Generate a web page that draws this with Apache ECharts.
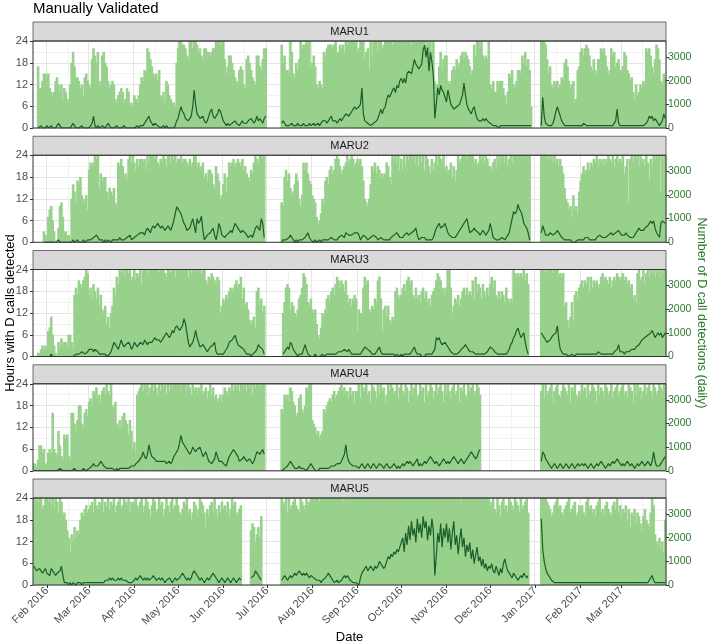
<!DOCTYPE html>
<html>
<head>
<meta charset="utf-8">
<title>Manually Validated</title>
<script src="https://cdn.jsdelivr.net/npm/echarts@6/dist/echarts.min.js"></script>
<style>
  html, body { margin: 0; padding: 0; background: #fff; }
  #chart { width: 709px; height: 644px; }
</style>
</head>
<body>
<div id="chart"></div>
<script>
// One string per month (Jan 23 2016 .. Mar 31 2017), one char per day.
// hours: base-36 digit = hours with D calls (0..24, 'o' = 24), '-' = no recording
// calls: base-36 digit = daily D call detections in hundreds, '-' = no recording
const monthDays = [9, 29, 31, 30, 31, 30, 31, 31, 30, 31, 30, 31, 31, 28, 31]

const maru1Hours = [
  '---hbbdff', 'efba9adecac8ba87cilheedbc9efd', 'cbjmkilcdklihdbcdc879aba78ba676',
  '9879cedgfmljhfefdg98a7dc98776i', 'moonnmkjoomoonlmkjmmllklmmooono', 'ojfhkkigedcghgcbjkigedckkhgjmm',
  '----------nikggfolfeigjomnnonoh', 'ikhcbdcblkmnnnmnollnmnlonoooooo', 'lmooojlmgokoooloomnooooonooooo',
  'ooooooonooooooooomonolodcchlgjk', 'kdcdghgjhikljlkjhfgnkoomokjkjo', 'cbdaadcddb97afegcbdggfkilhjg6--',
  '----ooonjfhcbdcdbcedijhdbcd78gh', 'lmkmnmkhgjgfjjmlmkhfgmklhijg', 'ghlkgfdea8c9acbdcmlmkhfjnmjdcfe'
]
const maru1Calls = [
  '---001000', '10010001210000000121000010000', '0125101001101210000100001000000',
  '001011123353212211001010000013', '47976443359ga654453235785446875', '321211223221232223343235343245',
  '----------232111121112111211121', '1211212333234533323434566567898', '89ah6332211223468689ceddghfihk',
  'ljljnoonqtrqpqrxzuyowsm4aheigfd', 'bgda98899acejea876896433343433', '22111101111111111111111111111--',
  '----1d5221112479753211111111111', '1122111111111111111111113821', '1111111111111111123545343211364'
]
const maru2Hours = [
  '-------32', '179a63004ab733221cgebhgidcbd9', 'kmlmonofjhiiecfedfbamlnlijhnomo',
  'mknlnnmnkomooonomlnmonloomonom', 'nnomnnmlnlmoolmklmijhkkjgfljhcd', 'gjeimlmnlmnmlnkljihkjmonmoono-',
  '----------baikhjfdegjhcadmkmjhg', 'dcb7568cbhigkljknonljklmomnonlm', 'nmnlhcbacglkmjlkijijmligonomok',
  'nkolonoonomolomokonljnkmolonmok', 'ljkmilhkomnooonoooomnlmonomonl', 'lkmnkomonomolnomoooooooooooo---',
  '----oooononomomnlnljfcb9a7d9a8e', 'hjljkmkmlnmolnmnlnmonmolnomn', 'mojlnbnomonolomnlomhnlononoeono'
]
const maru2Calls = [
  '-------00', '00000000100000000010010001001', '1112232111010110111112111122311',
  '2233444356546767876765676579cf', 'edca875568a74a89b51233456314863', '32334546876545543223246765a82-',
  '----------011112321010111123421', '1010010111111221112233244333344', '431233211223321122111112233432',
  '2233433445631122211111246786678', '64332223455789a744565543454345', '852211112212347adcdgedb87641---',
  '----475333443345432211111000011', '1112221111122332222334334454', '3334332223456555667898964428998'
]
const maru3Hours = [
  '---112323', '278b631042534436642hjhlkjlmon', 'hjgkigjehdce9b8cejhmkonomoonolm',
  'olnmokooonooooooonooonmoonoomo', 'oooonoomonooonoonoolkmlnmlkmlce', 'gfhgijijkljkmgjefda9ab8ijegce-',
  '-----------cfjkjdfecbdghjnmkfeg', 'dcd9658cbdghfijhkmljlkilhfgeghg', '7dccjmkldcedgflmg7debea9baijhg',
  'hjkilmklhgjghfijgifgehijlnmlijh', 'joojcegfhegijhjhihlgmikjgkigjh', 'kmjlhgigihfjgfgfonmnmnmolnk----',
  '----ooonoooonooomnmnefa8bfahigj', 'kljlkmimjlkljkmnlmlkmjlmlnml', 'mnlmkljkghfnolmoknomonomonomono'
]
const maru3Calls = [
  '---000000', '00010000000000000000111122112', '3332332111110012465435754556534',
  '6545665765666787776789a989bacd', 'cbcdgea64568b864455322445621111', '12246678975544321110112354431-',
  '-----------12343653210111353110', '0010000100111111112222332321111', '111234433211123421111111110110',
  '1011111234211100011111138786556', '643221111233454322221111111123', '443221111111235689bca89a631----',
  '----a987667899ad732111100110111', '1111111111112211111111122352', '22122223334456778899abb89a9a89a'
]
const maru4Hours = [
  '221377562', '2565g654b743a9a43ggdbeiidcghf', 'jkimlnkljmnlomloihjdcecfgedaeb6',
  '85lmnomonolnomonlomonolomonooo', 'oonooomonlomnlnmolmnkmolnkljklj', 'lnmlnmomonomoonomonolonoonooo-',
  '----------hglkljnmjifgklhginmoo', 'edcab9abhgijkjlmklmnomnlmknlmjm', 'mokomnolmjonmkolomnjlomonlmokn',
  'omlonjmolnoklomnjolmonkmolnomjo', 'lomknolmojnmolkomnolmonl------', '-------------------------------',
  '----mokolmnojmnolkmonmlojnmolkm', 'lomnkolmonmjolnmkonlmokmnolm', 'nolmkonmjolomnkmolnomkonlmonmoo'
]
const maru4Calls = [
  '000000000', '00000000011000000001000001100', '1123222343221111110101111111122',
  '2334568657b8665444444433434678', '9cfcba9878a9899a867864433586444', '33246789886445654454346887897-',
  '----------001123432111211110123', '21000111111112222333447b6433222', '212321232123212332123211232121',
  '2323434323452323434565434323454', '343456543454345678765689------', '-------------------------------',
  '----487543212321232123212321232', '2323212321232343212323434543', '2323432321232343234324842223456'
]
const maru5Hours = [
  'ooonoolmo', 'onomolonko njkifd9ecg dfeikjlmk', 'lmnkomlnmo knmolnmokm nolmonmokn m',
  'nomlnokmonljmonklomnjlomknolmo', 'mkjlnmokliknmjlonmkgljmnkoljmkn', 'lmknjlomnkjlm------fhgcegdj---',
  '----------onmokolmnomlkonmlomno', 'ooooonoooo oooooooooo onoooooooo o', 'oooooooooo oooooooooo oooooooooo',
  'oooooooooo oooooooooo oooooooooo o', 'oooooooooo nooooooooo oooooooooo', 'mnolkomjnolmkonmlonmkolmnok----',
  '----oooonmljkmnolmkjlmnoklmnjkm', 'lmkjnolmkljmnokljmnlkjmnlokm', 'jlkmilgkjl hkjhfjlihg komecbdac9 i'
]
const maru5Calls = [
  '876676557', '5547654556 8411101011 011101111', '1111111111 1222323222 3232222111 1',
  '2323432323 2234322323 2122321232', '2345432323 5654323212 3234543212 3', '2123212321232------33465432---',
  '---------- 2343234345 4565454543 4', '4332221223 4553211211 2343432211 1', '1035678678 76878a9878 acbdcedfeg',
  'gkemhpjrlo ismqktorjp lsn4cmiqgo k', 'qiofmrhldj ogkcheibf9 dgac8b7968', '7965864759 b865435432 3435434----',
  '---- sfa7543221 1111111111 1111111', '1111111111 1111111111 11111111', '1111111111 1111111112 3421111111 1'
]

const panelNames = ['MARU1', 'MARU2', 'MARU3', 'MARU4', 'MARU5']
const callTicks = [0, 1000, 2000, 3000]
const monthNames = ['Jan', 'Feb', 'Mar', 'Apr', 'May', 'Jun', 'Jul', 'Aug', 'Sep', 'Oct', 'Nov', 'Dec']

const problems = []
function decode(months, scale, tag) {
  const out = []
  months.forEach((raw, m) => {
    const s = raw.replace(/ /g, '')
    const n = monthDays[m]
    if (s.length !== n) problems.push(tag + ' m' + m + ':' + s.length + '/' + n)
    for (let i = 0; i < n; i++) {
      const c = s[i]
      out.push(c === undefined || c === '-' ? null : parseInt(c, 36) * scale)
    }
  })
  return out
}

const dates = []
const start = Date.UTC(2016, 0, 23)
for (let i = 0; i < 434; i++) {
  dates.push(new Date(start + i * 86400000).toISOString().slice(0, 10))
}
const dayOf = v => +v.slice(8, 10)

const hours = [maru1Hours, maru2Hours, maru3Hours, maru4Hours, maru5Hours].map((h, i) => decode(h, 1, 'H' + (i + 1)))
const calls = [maru1Calls, maru2Calls, maru3Calls, maru4Calls, maru5Calls].map((c, i) => decode(c, 100, 'C' + (i + 1)))

const FONT = 'Liberation Sans, Arial, sans-serif'
const BAR = '#98d18c'
const LINE = '#1b5e2a'
const GREEN_TXT = '#2a7a2a'
const LEFT = 33
const WIDTH = 633
const TOP0 = 41
const PITCH = 114.25
const PH = 87
const STRIP = 19

const grids = []
const xAxes = []
const yAxes = []
const series = []
const graphics = []

panelNames.forEach((name, i) => {
  const top = TOP0 + i * PITCH
  const last = i === panelNames.length - 1
  grids.push({ left: LEFT, top: top, width: WIDTH, height: PH, show: false })
  xAxes.push({
    type: 'category',
    gridIndex: i,
    data: dates,
    boundaryGap: true,
    axisLine: { show: false },
    axisTick: {
      show: last,
      alignWithLabel: true,
      interval: (idx, v) => dayOf(v) === 1,
      length: 3,
      lineStyle: { color: '#333' }
    },
    axisLabel: {
      show: last,
      interval: (idx, v) => dayOf(v) === 1,
      rotate: 45,
      margin: 4,
      color: '#4d4d4d',
      fontSize: 11,
      fontFamily: FONT,
      formatter: v => monthNames[+v.slice(5, 7) - 1] + ' ' + v.slice(0, 4)
    },
    splitLine: {
      show: true,
      interval: (idx, v) => dayOf(v) === 1 || dayOf(v) === 16,
      lineStyle: { color: ['#e4e4e4', '#f2f2f2'], width: 1 }
    }
  })
  yAxes.push({
    type: 'value',
    gridIndex: i,
    position: 'left',
    min: 0,
    max: 24,
    interval: 6,
    axisLine: { show: false },
    axisTick: { show: true, length: 3, lineStyle: { color: '#333' } },
    axisLabel: { color: '#4d4d4d', fontSize: 11, fontFamily: FONT, margin: 5 },
    splitLine: { show: true, lineStyle: { color: '#e4e4e4' } },
    minorTick: { show: false, splitNumber: 2 },
    minorSplitLine: { show: true, lineStyle: { color: '#f2f2f2' } }
  })
  yAxes.push({
    type: 'value',
    gridIndex: i,
    position: 'right',
    min: 0,
    max: 3680,
    axisLine: { show: false },
    axisTick: { show: true, length: 3, customValues: callTicks, lineStyle: { color: '#333' } },
    axisLabel: {
      customValues: callTicks,
      formatter: v => String(v),
      color: GREEN_TXT,
      fontSize: 10.5,
      fontFamily: FONT,
      margin: 2
    },
    splitLine: { show: false }
  })
  series.push({
    type: 'bar',
    name: name + ' hours',
    xAxisIndex: i,
    yAxisIndex: i * 2,
    data: hours[i],
    barWidth: 2.6,
    itemStyle: { color: BAR },
    silent: true
  })
  series.push({
    type: 'line',
    name: name + ' calls',
    xAxisIndex: i,
    yAxisIndex: i * 2 + 1,
    data: calls[i],
    showSymbol: false,
    connectNulls: false,
    lineStyle: { color: LINE, width: 1.2 },
    silent: true,
    z: 5
  })
  // facet strip
  graphics.push({
    type: 'rect',
    shape: { x: LEFT, y: top - STRIP, width: WIDTH, height: STRIP },
    style: { fill: '#d9d9d9', stroke: '#4d4d4d', lineWidth: 0.8 },
    z: 100
  })
  graphics.push({
    type: 'text',
    x: LEFT + WIDTH / 2,
    y: top - STRIP / 2,
    style: { text: name, font: '11px ' + FONT, fill: '#1a1a1a', textAlign: 'center', textVerticalAlign: 'middle' },
    z: 101
  })
  // panel border
  graphics.push({
    type: 'rect',
    shape: { x: LEFT, y: top, width: WIDTH, height: PH },
    style: { fill: 'none', stroke: '#333', lineWidth: 1 },
    z: 100
  })
})

const midY = TOP0 + (4 * PITCH + PH) / 2
graphics.push(
  { type: 'text', left: LEFT, top: 1, style: { text: 'Manually Validated', font: '15px ' + FONT, fill: '#000' }, z: 101 },
  { type: 'text', x: 10, y: midY, rotation: Math.PI / 2,
    style: { text: 'Hours with D calls detected', font: '13px ' + FONT, fill: '#000', textAlign: 'center', textVerticalAlign: 'middle' }, z: 101 },
  { type: 'text', x: 701, y: midY, rotation: -Math.PI / 2,
    style: { text: 'Number of D call detections (daily)', font: '12.5px ' + FONT, fill: GREEN_TXT, textAlign: 'center', textVerticalAlign: 'middle' }, z: 101 },
  { type: 'text', x: LEFT + WIDTH / 2, y: 637,
    style: { text: 'Date', font: '13px ' + FONT, fill: '#000', textAlign: 'center', textVerticalAlign: 'middle' }, z: 101 }
)
if (problems.length) {
  graphics.push({ type: 'text', left: 40, top: 600, style: { text: problems.join(' '), font: '10px ' + FONT, fill: 'red' }, z: 200 })
}

const chart = echarts.init(document.getElementById('chart'), null, { renderer: 'canvas' })
chart.setOption({
  animation: false,
  backgroundColor: '#fff',
  grid: grids,
  xAxis: xAxes,
  yAxis: yAxes,
  series: series,
  graphic: graphics
})
</script>
</body>
</html>
